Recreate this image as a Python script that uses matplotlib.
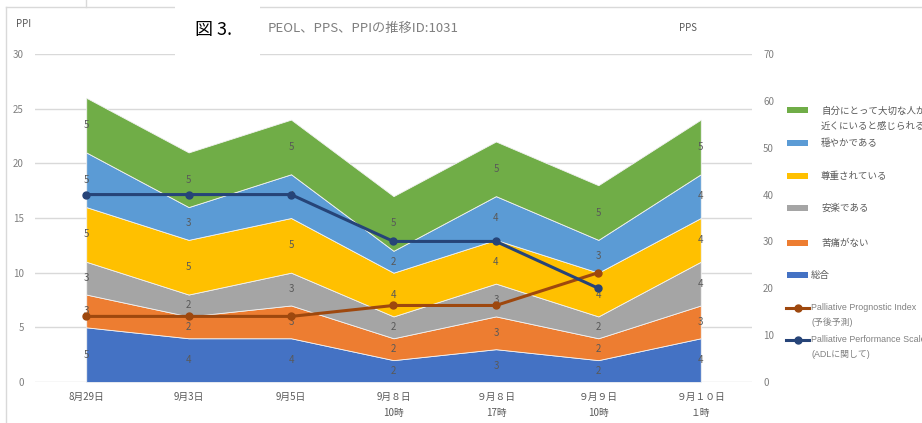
import matplotlib
matplotlib.use("Agg")
import matplotlib.pyplot as plt
from matplotlib.patches import Rectangle
from matplotlib.lines import Line2D
import numpy as np

plt.rcParams['font.family'] = ['Noto Sans CJK JP', 'DejaVu Sans']

categories = ['8月29日', '9月3日', '9月5日', '9月８日\n10時', '９月８日\n17時', '９月９日\n10時', '９月１０日\n１時']
series_names = ['総合', '苦痛がない', '安楽である', '尊重されている', '穏やかである',
                '自分にとって大切な人が\n近くにいると感じられる']
sogo      = [5, 4, 4, 2, 3, 2, 4]
kutsu     = [3, 2, 3, 2, 3, 2, 3]
anraku    = [3, 2, 3, 2, 3, 2, 4]
sonchou   = [5, 5, 5, 4, 4, 4, 4]
odayaka   = [5, 3, 4, 2, 4, 3, 4]
taisetsu  = [5, 5, 5, 5, 5, 5, 5]
ppi = [6, 6, 6, 7, 7, 10]
pps = [40, 40, 40, 30, 30, 20]
ppi_label = 'Palliative Prognostic Index\n(予後予測)'
pps_label = 'Palliative Performance Scale\n(ADLに関して)'
title = 'PEOL、PPS、PPIの推移ID:1031'
fig_label = '図 3.'

colors = ['#4472C4', '#ED7D31', '#A5A5A5', '#FFC000', '#5B9BD5', '#70AD47']
ppi_color = '#9E480E'
pps_color = '#264478'
grid_c = '#D9D9D9'
txt_c = '#595959'
tick_c = '#808080'
latin_family = ['Liberation Sans', 'Noto Sans CJK JP']

W, H = 922, 423
fig = plt.figure(figsize=(W / 100, H / 100), dpi=100)

def fx(x):
    return x / W

def fy(y):
    return 1 - y / H

ax = fig.add_axes([fx(35), fy(382), fx(752) - fx(35), fy(54) - fy(382)])
ax2 = ax.twinx()

x = np.arange(len(categories))
data = [sogo, kutsu, anraku, sonchou, odayaka, taisetsu]
ax.stackplot(x, *data, colors=colors, edgecolor='#f2f2f2', linewidth=0.6, zorder=2)

cum = np.zeros(len(categories))
for vals in data:
    v = np.array(vals, dtype=float)
    for i in range(len(categories)):
        ax.text(x[i], cum[i] + v[i] / 2, str(vals[i]), ha='center', va='center',
                fontsize=7, color=txt_c, zorder=3)
    cum = cum + v

ax.plot(x[:len(ppi)], ppi, color=ppi_color, lw=2.2, marker='o', ms=5, zorder=4)
ax2.plot(x[:len(pps)], pps, color=pps_color, lw=2.2, marker='o', ms=5, zorder=4)

ax.set_xlim(-0.5, len(categories) - 0.5)
ax.set_ylim(0, 30)
ax2.set_ylim(0, 70)
ax.set_yticks(np.arange(0, 31, 5))
ax2.set_yticks(np.arange(0, 71, 10))
ax.set_xticks(x)
ax.set_xticklabels(categories, linespacing=1.75)
ax.yaxis.grid(True, color=grid_c, lw=1, zorder=0)
ax.set_axisbelow(True)
for a in (ax, ax2):
    for s in a.spines.values():
        s.set_visible(False)
ax.tick_params(axis='y', length=0, pad=8, labelsize=7, labelcolor=tick_c)
ax.tick_params(axis='x', length=0, pad=7, labelsize=7, labelcolor=txt_c)
ax2.tick_params(axis='y', length=0, pad=8, labelsize=7, labelcolor=tick_c)

# chart frame
fig.add_artist(Line2D([fx(6), 1], [fy(7), fy(7)], color=grid_c, lw=1, transform=fig.transFigure))
fig.add_artist(Line2D([fx(6), fx(6)], [fy(7), 0], color=grid_c, lw=1, transform=fig.transFigure))
fig.add_artist(Line2D([fx(86), fx(86)], [1, fy(7)], color=grid_c, lw=1, transform=fig.transFigure))

fig.text(fx(16), fy(24), 'PPI', fontsize=7, color=txt_c, va='center', ha='left')
fig.text(fx(688), fy(28), 'PPS', fontsize=7, color=txt_c, va='center', ha='center')
fig.text(fx(268), fy(28), title, fontsize=9.5, color='#7f7f7f', va='center', ha='left')

fig.add_artist(Rectangle((fx(175), fy(60)), fx(260) - fx(175), 1 - fy(60), facecolor='white',
                         edgecolor='none', transform=fig.transFigure, zorder=10))
fig.text(fx(195), fy(30), fig_label, fontsize=13, color='black', va='center', ha='left', zorder=11)

# legend
leg_rows = [(5, 110), (4, 143), (3, 176), (2, 208), (1, 243)]
for idx, yy in leg_rows:
    fig.add_artist(Rectangle((fx(787), fy(yy + 3)), fx(808) - fx(787), fy(yy - 3) - fy(yy + 3),
                             facecolor=colors[idx], edgecolor='none', transform=fig.transFigure))
    ty = yy + 8.5 if idx == 5 else yy
    fig.text(fx(821), fy(ty), series_names[idx], fontsize=6.8, color=txt_c, va='center',
             ha='left', linespacing=1.75)
fig.add_artist(Rectangle((fx(787), fy(278)), fx(808) - fx(787), fy(272) - fy(278),
                         facecolor=colors[0], edgecolor='none', transform=fig.transFigure))
fig.text(fx(811), fy(275), series_names[0], fontsize=6.8, color=txt_c, va='center', ha='left')
for yy, col, lab in [(308, ppi_color, ppi_label), (340, pps_color, pps_label)]:
    fig.add_artist(Line2D([fx(786), fx(809)], [fy(yy), fy(yy)], color=col, lw=2.2,
                          transform=fig.transFigure))
    fig.add_artist(Line2D([fx(798)], [fy(yy)], color=col, marker='o', ms=5,
                          transform=fig.transFigure))
    fig.text(fx(811), fy(yy + 7), lab, fontsize=6.4, color=tick_c, va='center', ha='left',
             linespacing=1.75, family=latin_family)

fig.savefig('out.png', dpi=100)
